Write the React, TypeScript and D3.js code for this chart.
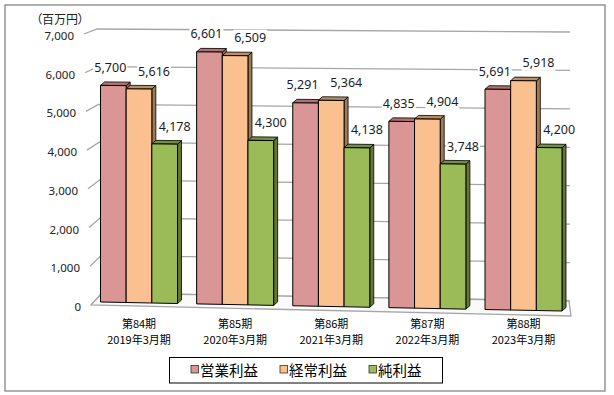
import React from 'react';
import * as d3 from 'd3';

// data (単位: 百万円)
const periods = ['第84期', '第85期', '第86期', '第87期', '第88期'];
const fiscalYears = ['2019年3月期', '2020年3月期', '2021年3月期', '2022年3月期', '2023年3月期'];
const seriesNames = ['営業利益', '経常利益', '純利益'];
const operatingProfit = [5700, 6601, 5291, 4835, 5691];
const ordinaryProfit = [5616, 6509, 5364, 4904, 5918];
const netProfit = [4178, 4300, 4138, 3748, 4200];
const yTicks = [0, 1000, 2000, 3000, 4000, 5000, 6000, 7000];

const WIDTH = 614;
const HEIGHT = 395;
const FRONT = ['#d99694', '#fac090', '#9bbb59'];
const TOP = ['#ad7371', '#b98f63', '#74903f'];
const SIDE = ['#9c5f5d', '#a27a52', '#62782f'];
const LABEL_DX = [-3, 15, 10];
const DEPTH = { dx: 4, dy: -3.5 };

export default function App() {
  const values = [operatingProfit, ordinaryProfit, netProfit];
  const fmt = d3.format(',');
  const yMax = 7000;

  // front plane of the bars (slight perspective: left and right edges differ)
  const xL = 100;
  const xR = 562;
  const yFrontL = d3.scaleLinear().domain([0, yMax]).range([302, 36]);
  const yFrontR = d3.scaleLinear().domain([0, yMax]).range([311, 39]);
  const proj = (x: number, v: number) => {
    const t = (x - xL) / (xR - xL);
    return [x, yFrontL(v) * (1 - t) + yFrontR(v) * t];
  };

  // walls
  const wallFrontX = d3.scaleLinear().domain([0, yMax]).range([91, 84]);
  const wallFrontY = d3.scaleLinear().domain([0, yMax]).range([305, 34]);
  const backLeftX = d3.scaleLinear().domain([0, yMax]).range([102, 97]);
  const yBackL = d3.scaleLinear().domain([0, yMax]).range([293, 29]);
  const yBackR = d3.scaleLinear().domain([0, yMax]).range([301, 32]);
  const backRightX = 570;

  const xGroup = d3.scalePoint().domain(periods).range([139, 523.5]);
  const xSeries = d3.scaleBand().domain(seriesNames).range([-38.5, 38.5]);

  const pts = (p: number[][]) => p.map((d) => d.join(',')).join(' ');

  const grid = yTicks.map((v) => (
    <g key={v}>
      <polyline
        points={pts([
          [wallFrontX(v), wallFrontY(v)],
          [backLeftX(v), yBackL(v)],
          [backRightX, yBackR(v)],
        ])}
        fill="none"
        stroke="#a6a6a6"
        strokeWidth={1.3}
      />
      <text
        x={wallFrontX(v) - 10}
        y={wallFrontY(v) + 1.5}
        textAnchor="end"
        dominantBaseline="central"
        fontSize={11.5}
        fill="#222"
      >
        {fmt(v)}
      </text>
    </g>
  ));

  const floor = (
    <polygon
      points={pts([
        [wallFrontX(0), wallFrontY(0)],
        [backLeftX(0), yBackL(0)],
        [backRightX - 1, yBackR(0)],
        [backRightX + 1, 316],
      ])}
      fill="#fafafa"
      stroke="#a6a6a6"
      strokeWidth={1.3}
    />
  );

  const bars = periods.map((p, gi) => (
    <g key={p}>
      {seriesNames.map((s, si) => {
        const v = values[si][gi];
        const x0 = (xGroup(p) ?? 0) + (xSeries(s) ?? 0);
        const x1 = x0 + xSeries.bandwidth();
        const a = proj(x0, 0);
        const b = proj(x1, 0);
        const c = proj(x1, v);
        const d = proj(x0, v);
        const off = (q: number[]) => [q[0] + DEPTH.dx, q[1] + DEPTH.dy];
        return (
          <g key={s}>
            <polygon points={pts([b, c, off(c), off(b)])} fill={SIDE[si]} stroke="#000" strokeWidth={0.8} strokeLinejoin="round" />
            <polygon points={pts([d, c, off(c), off(d)])} fill={TOP[si]} stroke="#000" strokeWidth={0.8} strokeLinejoin="round" />
            <polygon points={pts([a, b, c, d])} fill={FRONT[si]} stroke="#000" strokeWidth={1} strokeLinejoin="round" />
          </g>
        );
      })}
    </g>
  ));

  const labels = periods.map((p, gi) =>
    seriesNames.map((s, si) => {
      const v = values[si][gi];
      const cx = (xGroup(p) ?? 0) + (xSeries(s) ?? 0) + xSeries.bandwidth() / 2 + LABEL_DX[si];
      const cy = proj(cx, v)[1] - 18;
      return (
        <g key={p + s}>
          <rect x={cx - 17} y={cy - 8} width={34} height={16} fill="#fff" />
          <text x={cx} y={cy} textAnchor="middle" dominantBaseline="central" fontSize={12.5} fill="#1c1c28">
            {fmt(v)}
          </text>
        </g>
      );
    })
  );

  const catLabels = periods.map((p, gi) => (
    <g key={p} fontFamily="'Noto Sans CJK JP'" fontSize={11} fill="#000" textAnchor="middle">
      <text x={xGroup(p)} y={322.5} dominantBaseline="central">
        {p}
      </text>
      <text x={xGroup(p)} y={339} dominantBaseline="central">
        {fiscalYears[gi]}
      </text>
    </g>
  ));

  // legend
  const legendX = 191;
  const legendGap = 22;
  const charW = 14.5;
  let cursor = legendX;
  const legendItems = seriesNames.map((s, si) => {
    const x = cursor;
    cursor += 9 + s.length * charW + legendGap;
    return (
      <g key={s}>
        <rect x={x} y={365.5} width={7.5} height={7.5} fill={FRONT[si]} stroke="#333" strokeWidth={0.8} />
        <text x={x + 9} y={369.5} dominantBaseline="central" fontSize={14.5} fontFamily="'Noto Sans CJK JP'" fill="#000">
          {s}
        </text>
      </g>
    );
  });

  return (
    <svg
      width={WIDTH}
      height={HEIGHT}
      style={{ position: 'absolute', left: 0, top: 0, background: '#fff' }}
      fontFamily="'Noto Sans', 'Noto Sans CJK JP', sans-serif"
    >
      <rect x={5} y={5} width={600} height={386} fill="#fff" stroke="#868686" strokeWidth={1.3} />
      <text
        x={36}
        y={18}
        dominantBaseline="central"
        fontSize={12}
        fontFamily="'Noto Sans CJK JP'"
        style={{ fontFeatureSettings: '"palt"' }}
        fill="#222"
      >
        （百万円）
      </text>
      {grid}
      {floor}
      {bars}
      {labels}
      {catLabels}
      <rect x={169.5} y={357.5} width={273} height={25.5} fill="#fff" stroke="#000" strokeWidth={1} />
      {legendItems}
    </svg>
  );
}
